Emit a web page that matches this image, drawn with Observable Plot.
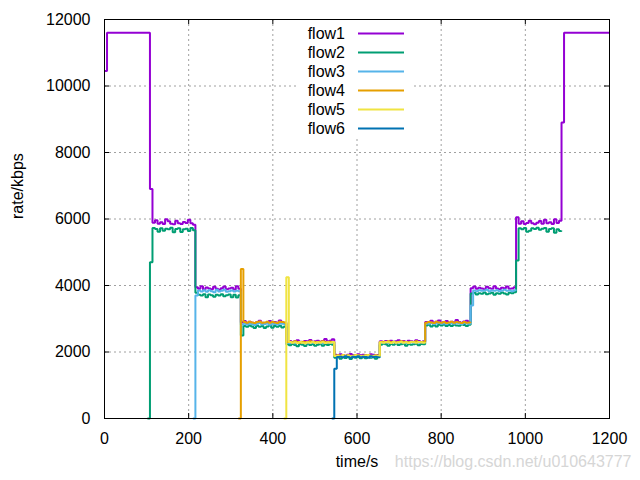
<!DOCTYPE html>
<html><head><meta charset="utf-8">
<script src="https://cdn.jsdelivr.net/npm/d3@7"></script>
<script src="https://cdn.jsdelivr.net/npm/@observablehq/plot@0.6"></script>
<style>body{margin:0;background:#fff} #chart{width:640px;height:480px}</style>
</head><body><div id="chart"></div>
<script>
// sample interval (seconds) and series
const STEP = 6;
const seriesNames = ["flow1", "flow2", "flow3", "flow4", "flow5", "flow6"];
const seriesColors = ["#9400d3", "#009e73", "#56b4e9", "#e69f00", "#f0e442", "#0072b2"];
const xTicks = [0, 200, 400, 600, 800, 1000, 1200];
const yTicks = [0, 2000, 4000, 6000, 8000, 10000, 12000];
const xLabel = "time/s";
const yLabel = "rate/kbps";
const watermark = "https://blog.csdn.net/u010643777";

// start index (in samples) of each flow, and sampled rates (kbps)
const flow1Start = 0;
const flow1 = [10450, 11600, 11600, 11600, 11600, 11600, 11600, 11600, 11600, 11600, 11600, 11600, 11600, 11600, 11600, 11600, 11600, 11600,
  6900, 5890, 5960, 5860, 5900, 5850, 5990, 5930, 5860, 5840, 5950, 5870, 5850, 5910, 5880, 5980, 5870, 5830,
  3950, 3900, 3980, 3880, 3940, 3910, 3890, 3960, 3900, 3870, 3920, 3970, 3890, 3910, 3930, 3880, 3980, 3900,
  2890, 2930, 2870, 2910, 2880, 2860, 2900, 2940, 2880, 2870, 2890, 2930, 2870, 2900, 2880, 2950, 2890, 2880,
  2310, 2330, 2300, 2320, 2350, 2310, 2290, 2330, 2320, 2360, 2300, 2320, 2340, 2310, 2330, 2390, 2320, 2340, 2380,
  1920, 1900, 1930, 1910, 1890, 1920, 1940, 1900, 1910, 1930, 1900, 1920, 1890, 1910, 1930, 1920, 1900, 1910,
  2320, 2300, 2330, 2310, 2340, 2300, 2320, 2350, 2310, 2330, 2300, 2340, 2320, 2310, 2350, 2330, 2300, 2320,
  2900, 2890, 2940, 2880, 2910, 2950, 2890, 2900, 2930, 2880, 2910, 2890, 2960, 2900, 2880, 2920, 2940, 2900,
  3920, 3970, 3900, 3930, 3910, 3890, 3960, 3920, 3900, 3980, 3910, 3890, 3930, 3920, 3970, 3900, 3910, 3950,
  6050, 5860, 5930, 5850, 5880, 5950, 5870, 5840, 5890, 5940, 5860, 5980, 5870, 5900, 5850, 5990, 5880, 5950,
  8900, 11600, 11600, 11600, 11600, 11600, 11600, 11600, 11600, 11600, 11600, 11600, 11600, 11600, 11600, 11600, 11600, 11600, 11600, 11600];

const flow2Start = 17;
const flow2 = [0,
  4700, 5730, 5700, 5620, 5720, 5650, 5710, 5690, 5740, 5600, 5700, 5720, 5610, 5690, 5710, 5640, 5730, 5660,
  3780, 3720, 3700, 3740, 3650, 3730, 3710, 3660, 3720, 3700, 3740, 3680, 3710, 3730, 3650, 3720, 3640, 3710,
  2500, 2780, 2760, 2800, 2770, 2720, 2790, 2760, 2780, 2720, 2770, 2800, 2730, 2780, 2760, 2790, 2740, 2770,
  2230, 2200, 2240, 2210, 2170, 2230, 2220, 2180, 2240, 2210, 2230, 2190, 2220, 2250, 2190, 2230, 2210, 2240, 2220,
  1830, 1850, 1800, 1840, 1820, 1860, 1790, 1840, 1830, 1850, 1810, 1840, 1810, 1850, 1830, 1840, 1800, 1850,
  2220, 2250, 2230, 2190, 2240, 2220, 2260, 2210, 2230, 2250, 2190, 2240, 2220, 2230, 2250, 2200, 2240, 2230,
  2800, 2820, 2770, 2810, 2770, 2820, 2800, 2830, 2780, 2810, 2780, 2820, 2800, 2790, 2830, 2810, 2780, 2820,
  3760, 3780, 3730, 3770, 3750, 3790, 3740, 3760, 3780, 3720, 3770, 3750, 3790, 3760, 3730, 3780, 3770, 3800,
  4750, 5720, 5690, 5730, 5620, 5650, 5720, 5700, 5740, 5680, 5710, 5730, 5620, 5700, 5720, 5590, 5690, 5640,
  5650];

const flow3Start = 35;
const flow3 = [0,
  3700, 3850, 3820, 3860, 3810, 3860, 3830, 3800, 3870, 3820, 3840, 3870, 3810, 3830, 3850, 3820, 3840, 3830,
  2820, 2850, 2830, 2860, 2840, 2810, 2850, 2870, 2830, 2840, 2860, 2820, 2850, 2840, 2830, 2860, 2850, 2840,
  2280, 2270, 2290, 2260, 2280, 2300, 2270, 2280, 2260, 2290, 2280, 2270, 2300, 2280, 2260, 2290, 2280, 2270, 2290,
  1880, 1870, 1890, 1860, 1880, 1900, 1870, 1880, 1860, 1890, 1880, 1870, 1900, 1880, 1860, 1890, 1880, 1870,
  2290, 2280, 2300, 2270, 2290, 2310, 2280, 2290, 2300, 2280, 2270, 2300, 2290, 2280, 2310, 2290, 2280, 2300,
  2860, 2850, 2870, 2840, 2860, 2880, 2850, 2860, 2840, 2870, 2860, 2850, 2880, 2860, 2840, 2870, 2860, 2850,
  3400, 3850, 3830, 3860, 3840, 3850, 3870, 3830, 3850, 3840, 3860, 3830, 3850, 3870, 3840, 3850, 3830, 3860,
  3850];

const flow4Start = 53;
const flow4 = [0,
  4500, 2900, 2880, 2910, 2890, 2870, 2900, 2920, 2880, 2890, 2910, 2880, 2900, 2890, 2870, 2910, 2900, 2890,
  2300, 2310, 2290, 2320, 2300, 2280, 2310, 2300, 2290, 2320, 2310, 2300, 2290, 2310, 2320, 2300, 2290, 2310, 2300,
  1890, 1900, 1880, 1910, 1890, 1900, 1880, 1890, 1910, 1900, 1880, 1890, 1900, 1910, 1890, 1880, 1900, 1890,
  2300, 2310, 2290, 2320, 2300, 2310, 2290, 2300, 2320, 2310, 2300, 2290, 2310, 2300, 2320, 2300, 2290, 2310,
  2880, 2900, 2890, 2870, 2910, 2890, 2880, 2900, 2870, 2890, 2910, 2880, 2900, 2890, 2870, 2900, 2880, 2890,
  2880];

const flow5Start = 71;
const flow5 = [0,
  4250, 2300, 2280, 2290, 2270, 2300, 2280, 2260, 2290, 2280, 2300, 2270, 2290, 2280, 2300, 2270, 2290, 2280, 2300,
  1880, 1890, 1870, 1900, 1880, 1890, 1870, 1880, 1900, 1890, 1870, 1880, 1890, 1900, 1880, 1870, 1890, 1880,
  2290, 2280, 2300, 2290, 2270, 2300, 2280, 2290, 2300, 2280, 2290, 2270, 2300, 2290, 2280, 2300, 2290, 2280,
  2290];

const flow6Start = 90;
const flow6 = [0,
  1500, 1850, 1860, 1840, 1870, 1850, 1830, 1860, 1850, 1870, 1840, 1860, 1850, 1830, 1870, 1850, 1860, 1840,
  1850];

const flows = [
  {name: "flow1", start: flow1Start, values: flow1},
  {name: "flow2", start: flow2Start, values: flow2},
  {name: "flow3", start: flow3Start, values: flow3},
  {name: "flow4", start: flow4Start, values: flow4},
  {name: "flow5", start: flow5Start, values: flow5},
  {name: "flow6", start: flow6Start, values: flow6}
];
const data = flows.flatMap(f => f.values.map((v, i) => ({flow: f.name, t: (f.start + i) * STEP, rate: v})));

const W = 640, H = 480, ML = 104, MR = 31, MT = 19, MB = 62;
const FW = W - ML - MR, FH = H - MT - MB, TICK = 5;
const gridStyle = {stroke: "#a0a0a0", strokeOpacity: 1, strokeDasharray: "2,3", strokeWidth: 1};

const chart = Plot.plot({
  width: W, height: H,
  marginLeft: ML, marginRight: MR, marginTop: MT, marginBottom: MB,
  style: {fontFamily: "'Liberation Sans', Arial, sans-serif", fontSize: "16px", color: "black", background: "white"},
  x: {domain: [0, 1200]},
  y: {domain: [0, 12000]},
  color: {domain: seriesNames, range: seriesColors},
  marks: [
    Plot.gridX(xTicks, gridStyle),
    Plot.gridY(yTicks, gridStyle),
    Plot.lineY(data, {x: "t", y: "rate", z: "flow", stroke: "flow", strokeWidth: 2, curve: "step-after", strokeLinejoin: "miter", strokeLinecap: "butt"}),
    Plot.frame({stroke: "black", strokeWidth: 1}),
    Plot.tickX(xTicks, {x: d => d, insetTop: FH - TICK, stroke: "black"}),
    Plot.tickX(xTicks, {x: d => d, insetBottom: FH - TICK, stroke: "black"}),
    Plot.tickY(yTicks, {y: d => d, insetRight: FW - TICK, stroke: "black"}),
    Plot.tickY(yTicks, {y: d => d, insetLeft: FW - TICK, stroke: "black"}),
    Plot.axisX(xTicks, {tickSize: 0, tickPadding: 14, label: null, tickFormat: d3.format("d")}),
    Plot.axisY(yTicks, {tickSize: 0, tickPadding: 14, label: null, tickFormat: d3.format("d")}),
    Plot.text([yLabel], {text: d => d, frameAnchor: "left", dx: -87, rotate: -90, fill: "black"}),
    Plot.text([xLabel], {text: d => d, frameAnchor: "bottom", dy: 48, fill: "black"}),
    Plot.text([watermark], {text: d => d, frameAnchor: "bottom-right", dx: 22, dy: 48, textAnchor: "end", fill: "#d6d6d6"})
  ]
});

document.getElementById("chart").appendChild(chart);

// gnuplot-style key (opaque box, text right-aligned, line sample)
const svg = d3.select(chart);
const key = svg.append("g").attr("font-family", "'Liberation Sans', Arial, sans-serif").attr("font-size", 16);
key.append("rect").attr("x", 297).attr("y", 20).attr("width", 117).attr("height", 117).attr("fill", "white");
seriesNames.forEach((n, i) => {
  const yy = 33 + i * 19;
  key.append("text").attr("x", 345).attr("y", yy).attr("dy", "0.35em").attr("text-anchor", "end").attr("fill", "black").text(n);
  key.append("line").attr("x1", 358).attr("x2", 404).attr("y1", yy + 0.5).attr("y2", yy + 0.5)
    .attr("stroke", seriesColors[i]).attr("stroke-width", 2);
});
</script>
</body></html>
